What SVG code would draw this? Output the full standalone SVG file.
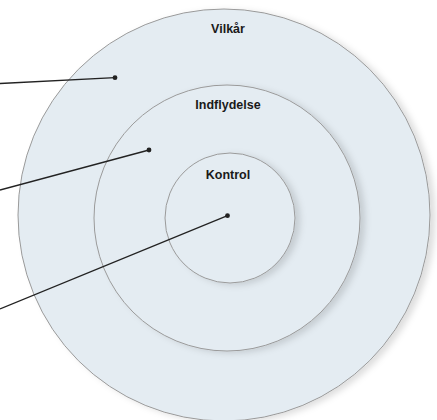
<svg xmlns="http://www.w3.org/2000/svg" width="437" height="420" viewBox="0 0 437 420">
<defs>
<filter id="sh" x="-10%" y="-10%" width="125%" height="125%">
<feDropShadow dx="5" dy="2" stdDeviation="3" flood-color="#000" flood-opacity="0.13"/>
</filter>
<style>
.ring{fill:#e4ecf2;stroke:#9a9a9a;stroke-width:1;filter:url(#sh)}
.lbl{font-family:"Liberation Sans",Arial,sans-serif;font-weight:bold;font-size:12.5px;fill:#1a1a1a;text-anchor:middle}
.ln{stroke:#222;stroke-width:1.3;fill:none}
.dot{fill:#222}
</style>
</defs>
<rect width="437" height="420" fill="#fff"/>
<g id="vilkar">
<circle class="ring" cx="224" cy="215" r="206"/>
<text class="lbl" x="228" y="33">Vilkår</text>
</g>
<g id="indflydelse">
<circle class="ring" cx="227" cy="218" r="133"/>
<text class="lbl" x="228" y="109">Indflydelse</text>
</g>
<g id="kontrol">
<circle class="ring" cx="230" cy="218" r="65"/>
<text class="lbl" x="228" y="179">Kontrol</text>
</g>
<g id="connectors">
<line class="ln" x1="0" y1="83.5" x2="115" y2="77.7"/>
<circle class="dot" cx="115" cy="77.7" r="2.4"/>
<line class="ln" x1="0" y1="190" x2="149" y2="150"/>
<circle class="dot" cx="149" cy="150" r="2.4"/>
<line class="ln" x1="0" y1="309" x2="227.5" y2="215.7"/>
<circle class="dot" cx="227.5" cy="215.7" r="2.4"/>
</g>
</svg>
